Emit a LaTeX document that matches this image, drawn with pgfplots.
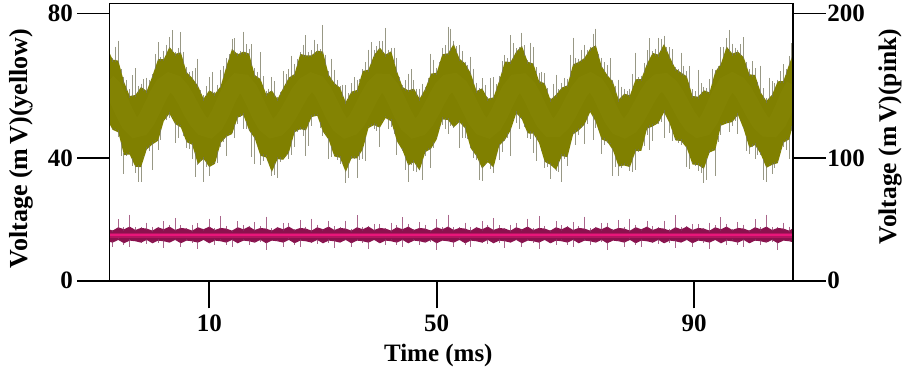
\documentclass[border=0pt]{standalone}
\usepackage{fontspec}
\setmainfont{Liberation Serif}
\usepackage{pgfplots}
\pgfplotsset{compat=1.18}
\usepackage{pgfplotstable}
\usepgfplotslibrary{fillbetween}
\definecolor{olv}{RGB}{128,128,0}
\definecolor{olvlight}{RGB}{160,160,30}
\definecolor{olvspike}{RGB}{118,118,92}
\definecolor{pinkdark}{RGB}{138,18,78}
\definecolor{pinkspike}{RGB}{140,50,100}
\definecolor{pinkline}{RGB}{232,22,122}

\pgfplotstableread{
t c lo hi slo shi
-8 59.4 48.4 69.9 44.4 72.9
-7 57.7 45.2 66.2 44.2 66.7
-6 54.4 44.4 65.9 41.9 71.9
-5 50.6 37.6 59.6 30.6 61.1
-4 47.3 37.8 55.3 37.3 57.3
-3 45.6 34.1 55.6 31.1 63.6
-2 46.0 34.0 58.0 28.5 59.0
-1 48.3 39.3 56.8 37.8 60.8
0 51.8 40.8 61.3 31.8 61.8
1 55.4 41.9 66.4 37.9 71.4
2 58.3 47.8 66.3 46.8 68.8
3 59.5 50.0 70.0 47.5 73.0
4 58.9 46.9 67.9 39.9 68.4
5 56.9 45.9 68.4 45.4 74.4
6 54.0 41.5 62.5 38.5 64.0
7 50.7 40.7 60.7 35.2 62.7
8 47.9 34.9 58.4 33.4 66.4
9 46.0 36.5 54.5 28.5 55.5
10 45.5 34.0 57.0 30.0 61.0
11 47.0 35.0 56.0 34.0 56.5
12 50.2 41.2 58.2 38.7 63.2
13 54.1 43.1 64.1 36.1 66.6
14 57.4 43.9 69.4 43.4 72.4
15 59.3 48.8 67.8 45.8 68.3
16 59.1 49.6 68.6 44.1 74.6
17 57.0 45.0 68.0 43.5 69.5
18 53.6 42.6 61.6 33.6 63.6
19 49.9 37.4 60.4 33.4 68.4
20 46.9 36.9 55.9 35.9 56.9
21 45.5 32.5 57.0 30.0 61.0
22 45.9 36.4 54.4 29.4 54.9
23 47.7 36.2 57.7 35.7 62.7
24 50.3 38.3 60.8 35.3 63.3
25 53.4 44.4 61.9 38.9 64.9
26 56.4 45.4 67.9 43.9 68.4
27 58.5 45.0 67.5 36.0 73.5
28 59.5 49.0 67.5 45.0 69.0
29 58.9 49.4 68.9 48.4 70.9
30 56.6 44.6 68.6 42.1 76.6
31 53.2 42.2 61.7 35.2 62.7
32 49.7 37.2 59.2 36.7 63.2
33 46.8 36.8 57.8 33.8 58.3
34 45.5 32.5 53.5 28.0 58.5
35 46.1 36.6 56.6 35.1 59.1
36 48.1 36.6 57.1 29.6 60.1
37 51.3 39.3 62.8 35.3 63.3
38 54.7 45.7 63.2 44.7 69.2
39 57.6 46.6 67.6 44.1 69.1
40 59.3 45.8 69.8 38.8 71.8
41 59.2 48.7 67.7 48.2 75.7
42 57.2 47.7 68.7 44.7 69.7
43 53.8 41.8 62.8 36.3 66.8
44 50.0 39.0 58.0 37.5 58.5
45 47.0 34.5 57.0 28.5 62.0
46 45.5 35.5 57.5 31.5 60.0
47 46.0 33.0 54.5 32.0 57.5
48 48.0 38.5 57.5 36.0 58.0
49 51.0 39.5 62.0 32.5 68.0
50 54.3 42.3 62.3 41.8 63.8
51 57.3 48.3 67.8 45.3 69.8
52 59.1 48.1 68.1 42.6 76.1
53 59.4 45.9 70.9 44.4 71.9
54 58.0 47.5 66.5 38.5 70.5
55 55.1 45.6 65.1 41.6 65.6
56 51.6 39.6 62.1 38.6 67.1
57 48.3 37.3 56.8 34.8 59.3
58 46.1 33.6 57.6 28.6 60.6
59 45.5 35.5 54.5 35.0 55.0
60 46.9 33.9 54.9 30.9 60.9
61 49.9 40.4 59.9 34.9 61.4
62 53.6 42.1 65.6 40.6 67.6
63 57.0 45.0 65.5 36.0 73.5
64 59.1 50.1 68.6 46.1 69.6
65 59.3 48.3 70.3 47.3 74.3
66 57.6 44.1 65.6 41.6 66.1
67 54.5 44.0 65.0 37.0 70.0
68 50.8 41.3 59.8 40.8 62.3
69 47.6 35.6 59.1 32.6 62.1
70 45.7 34.7 54.2 29.2 54.7
71 45.7 33.2 55.7 31.7 61.7
72 47.3 37.3 57.8 28.3 59.3
73 50.0 37.0 58.5 33.0 60.5
74 53.3 43.8 64.8 42.8 72.8
75 56.5 45.0 65.5 42.5 66.5
76 58.7 46.7 66.7 39.7 70.7
77 59.5 50.5 69.5 50.0 70.0
78 58.5 47.5 70.5 44.5 75.5
79 55.8 42.3 64.3 36.8 66.8
80 52.1 41.6 61.6 40.1 64.6
81 48.6 39.1 59.6 30.1 60.1
82 46.2 34.2 54.2 30.2 60.2
83 45.5 34.5 56.0 33.5 57.5
84 46.5 34.0 55.5 31.5 57.5
85 48.8 38.8 60.3 31.8 68.3
86 51.9 38.9 60.4 38.4 61.4
87 55.0 45.5 65.0 42.5 69.0
88 57.7 46.2 68.2 40.7 68.7
89 59.2 47.2 67.7 45.7 72.7
90 59.4 50.4 70.9 41.4 73.4
91 58.0 47.0 67.0 43.0 70.0
92 55.5 42.0 63.5 41.0 64.0
93 52.3 41.8 62.3 39.3 68.3
94 49.2 39.7 61.2 32.7 62.7
95 46.8 34.8 55.3 34.3 57.3
96 45.6 34.6 55.1 31.6 63.1
97 46.0 33.5 57.0 28.0 58.0
98 48.4 38.4 56.4 36.9 60.4
99 52.1 39.1 62.6 30.1 63.1
100 55.9 46.4 64.9 42.4 69.9
101 58.6 47.1 70.1 46.1 72.6
102 59.5 47.5 68.0 45.0 71.0
103 58.6 49.6 68.6 42.6 69.1
104 56.4 45.4 66.9 44.9 72.9
105 53.3 39.8 61.8 36.8 63.3
106 50.1 40.6 61.6 35.1 63.6
107 47.4 37.9 56.4 36.4 64.4
108 45.8 33.8 53.8 28.5 54.8
109 45.7 34.7 55.7 30.7 59.7
110 47.7 35.2 59.7 34.2 60.2
111 51.3 41.3 59.8 38.8 64.8
112 55.3 42.3 64.8 35.3 67.3
113 58.3 48.8 69.3 48.3 72.3
}\yel

\pgfplotstableread{
t slo shi lo hi
-7.5 44.8 69.1 46.8 68.1
-6.5 44.3 70.1 44.8 66.1
-5.5 36.0 63.3 41.0 62.8
-4.5 36.2 60.0 37.7 57.5
-3.5 33.0 61.5 36.0 55.5
-2.5 28.5 58.3 34.1 56.8
-1.5 35.7 60.4 36.7 57.4
-0.5 37.6 60.1 40.1 59.1
0.5 40.9 67.9 41.4 63.9
1.5 40.9 66.9 44.9 66.4
2.5 46.9 70.7 48.9 68.2
3.5 48.0 75.0 48.5 69.0
4.5 41.4 69.7 46.4 68.2
5.5 42.2 68.5 43.7 65.5
6.5 38.1 62.6 41.1 61.6
7.5 29.8 63.6 37.8 59.6
8.5 34.7 57.0 35.7 56.5
9.5 32.8 58.3 35.3 55.8
10.5 34.0 62.5 34.5 56.5
11.5 34.1 58.6 38.1 57.1
12.5 40.2 64.2 42.2 61.2
13.5 43.0 67.8 43.5 66.8
14.5 41.4 72.6 46.4 68.6
15.5 47.7 68.7 49.2 68.2
16.5 44.3 70.8 47.3 68.3
17.5 35.8 70.8 43.8 64.8
18.5 39.0 62.5 40.0 61.0
19.5 34.7 61.2 37.2 58.2
20.5 34.2 57.5 34.7 56.5
21.5 30.5 59.7 34.5 55.7
22.5 34.3 56.6 36.3 56.1
23.5 36.8 61.8 37.3 59.3
24.5 36.4 67.4 41.4 61.4
25.5 43.4 66.4 44.9 64.9
26.5 42.2 70.7 45.2 67.7
27.5 39.0 68.5 47.0 67.5
28.5 48.2 72.2 49.2 68.2
29.5 44.5 69.3 47.0 68.8
30.5 42.9 67.7 43.4 65.2
31.5 35.7 66.5 39.7 60.5
32.5 35.0 60.0 37.0 58.5
33.5 34.2 58.7 34.7 55.7
34.5 29.6 56.1 34.6 55.1
35.5 35.1 60.9 36.6 56.9
36.5 35.0 60.5 38.0 60.0
37.5 34.5 65.5 42.5 63.0
38.5 45.2 71.4 46.2 65.4
39.5 43.7 70.2 46.2 68.7
40.5 46.8 71.8 47.3 68.8
41.5 44.2 69.2 48.2 68.2
42.5 42.8 69.8 44.8 65.8
43.5 39.9 60.9 40.4 60.4
44.5 31.8 60.0 36.8 57.5
45.5 33.5 63.3 35.0 57.3
46.5 31.3 57.5 34.3 56.0
47.5 29.0 59.0 35.8 56.0
48.5 38.0 60.8 39.0 59.8
49.5 38.4 66.2 40.9 62.2
50.5 44.8 65.6 45.3 65.1
51.5 44.2 70.5 48.2 68.0
52.5 45.0 75.5 47.0 69.5
53.5 46.2 70.2 46.7 68.7
54.5 41.6 68.8 46.6 65.8
55.5 41.1 64.6 42.6 63.6
56.5 35.5 63.5 38.5 59.5
57.5 29.0 57.7 35.5 57.2
58.5 33.6 58.6 34.6 56.1
59.5 32.2 60.7 34.7 54.7
60.5 36.7 58.9 37.2 57.4
61.5 37.3 65.8 41.3 62.8
62.5 41.6 66.6 43.6 65.6
63.5 47.1 71.1 47.6 67.1
64.5 44.2 70.0 49.2 69.5
65.5 44.7 70.5 46.2 68.0
66.5 41.1 71.3 44.1 65.3
67.5 34.7 63.9 42.7 62.4
68.5 37.5 62.5 38.5 59.5
69.5 32.7 57.7 35.2 56.7
70.5 33.5 59.0 34.0 55.0
71.5 31.3 57.3 35.3 56.8
72.5 35.2 60.7 37.2 58.2
73.5 39.9 67.7 40.4 61.7
74.5 39.4 66.7 44.4 65.2
75.5 44.4 69.1 45.9 66.1
76.5 45.6 69.1 48.6 68.1
77.5 41.0 74.0 49.0 70.0
78.5 43.9 67.9 44.9 67.4
79.5 39.5 65.5 42.0 63.0
80.5 39.9 66.6 40.4 60.6
81.5 32.7 58.4 36.7 56.9
82.5 32.4 58.1 34.4 55.1
83.5 33.8 56.8 34.3 55.8
84.5 31.4 61.9 36.4 57.9
85.5 37.4 60.9 38.9 60.4
86.5 39.2 65.2 42.2 62.7
87.5 37.9 72.6 45.9 66.6
88.5 45.7 69.5 46.7 68.0
89.5 46.3 72.3 48.8 69.3
90.5 48.2 70.0 48.7 69.0
91.5 40.5 69.3 44.5 65.3
92.5 39.9 63.4 41.9 62.9
93.5 40.3 64.3 40.8 61.8
94.5 32.3 64.3 37.3 58.3
95.5 33.2 56.7 34.7 55.2
96.5 31.1 59.1 34.1 56.1
97.5 29.0 57.7 36.0 56.7
98.5 37.8 63.5 38.8 59.5
99.5 40.3 64.3 42.8 63.8
100.5 46.3 70.0 46.8 67.5
101.5 43.3 75.1 47.3 69.1
102.5 46.6 69.8 48.6 68.3
103.5 47.0 70.8 47.5 67.8
104.5 37.6 65.4 42.6 64.4
105.5 38.7 65.7 40.2 61.7
106.5 36.3 59.5 39.3 59.0
107.5 29.0 57.6 35.9 55.1
108.5 33.3 60.8 34.3 54.8
109.5 32.5 59.2 35.0 57.7
110.5 37.8 62.8 38.3 59.8
111.5 37.8 63.3 41.8 62.3
112.5 43.6 71.1 45.6 67.1
}\yelb

\pgfplotstableread{
t lo hi slo shi
-8 29.5 39.0 27.5 42.0
-7 28.5 37.5 23.5 38.0
-6 30.5 40.0 30.0 46.0
-5 28.0 38.5 24.5 40.0
-4 30.0 40.5 23.0 49.5
-3 29.5 38.0 28.5 40.0
-2 28.5 39.5 26.5 40.0
-1 30.5 39.0 25.5 43.5
0 28.0 37.5 27.5 40.5
1 30.0 40.0 26.5 40.5
2 29.5 38.5 22.5 44.5
3 28.5 40.5 27.5 42.0
4 30.5 38.0 28.5 47.0
5 28.0 39.5 23.0 41.5
6 30.0 39.0 29.5 39.5
7 29.5 37.5 26.0 42.0
8 28.5 40.0 21.5 43.0
9 30.5 38.5 29.5 39.0
10 28.0 40.5 26.0 46.5
11 30.0 38.0 25.0 39.5
12 29.5 39.5 29.0 48.5
13 28.5 39.0 25.0 41.0
14 30.5 37.5 23.5 38.0
15 28.0 40.0 27.0 44.5
16 30.0 38.5 28.0 41.5
17 29.5 40.5 24.5 41.0
18 28.5 38.0 28.0 44.0
19 30.5 39.5 27.0 41.0
20 28.0 39.0 21.0 48.0
21 30.0 37.5 29.0 39.5
22 29.5 40.0 27.5 40.5
23 28.5 38.5 23.5 43.0
24 30.5 40.5 30.0 43.5
25 28.0 38.0 24.5 38.5
26 30.0 39.5 23.0 45.5
27 29.5 39.0 28.5 40.5
28 28.5 37.5 26.5 46.5
29 30.5 40.0 25.5 42.0
30 28.0 38.5 27.5 39.0
31 30.0 40.5 26.5 45.0
32 29.5 38.0 22.5 41.0
33 28.5 39.5 27.5 40.0
34 30.5 39.0 28.5 45.0
35 28.0 37.5 23.0 39.0
36 30.0 40.0 29.5 49.0
37 29.5 38.5 26.0 40.5
38 28.5 40.5 21.5 41.0
39 30.5 38.0 29.5 42.5
40 28.0 39.5 26.0 42.5
41 30.0 39.0 25.0 39.5
42 29.5 37.5 29.0 43.5
43 28.5 40.0 25.0 41.5
44 30.5 38.5 23.5 47.5
45 28.0 40.5 27.0 42.5
46 30.0 38.0 28.0 38.5
47 29.5 39.5 24.5 44.0
48 28.5 39.0 28.0 42.0
49 30.5 37.5 27.0 38.0
50 28.0 40.0 21.0 46.0
51 30.0 38.5 29.0 40.0
52 29.5 40.5 27.5 49.5
53 28.5 38.0 23.5 40.0
54 30.5 39.5 30.0 40.0
55 28.0 39.0 24.5 43.5
56 30.0 37.5 23.0 40.5
57 29.5 40.0 28.5 40.5
58 28.5 38.5 26.5 44.5
59 30.5 40.5 25.5 42.0
60 28.0 38.0 27.5 47.0
61 30.0 39.5 26.5 41.5
62 29.5 39.0 22.5 39.5
63 28.5 37.5 27.5 42.0
64 30.5 40.0 28.5 43.0
65 28.0 38.5 23.0 39.0
66 30.0 40.5 29.5 46.5
67 29.5 38.0 26.0 39.5
68 28.5 39.5 21.5 48.5
69 30.5 39.0 29.5 41.0
70 28.0 37.5 26.0 38.0
71 30.0 40.0 25.0 44.5
72 29.5 38.5 29.0 41.5
73 28.5 40.5 25.0 41.0
74 30.5 38.0 23.5 44.0
75 28.0 39.5 27.0 41.0
76 30.0 39.0 28.0 48.0
77 29.5 37.5 24.5 39.5
78 28.5 40.0 28.0 40.5
79 30.5 38.5 27.0 43.0
80 28.0 40.5 21.0 43.5
81 30.0 38.0 29.0 38.5
82 29.5 39.5 27.5 45.5
83 28.5 39.0 23.5 40.5
84 30.5 37.5 30.0 46.5
85 28.0 40.0 24.5 42.0
86 30.0 38.5 23.0 39.0
87 29.5 40.5 28.5 45.0
88 28.5 38.0 26.5 41.0
89 30.5 39.5 25.5 40.0
90 28.0 39.0 27.5 45.0
91 30.0 37.5 26.5 39.0
92 29.5 40.0 22.5 49.0
93 28.5 38.5 27.5 40.5
94 30.5 40.5 28.5 41.0
95 28.0 38.0 23.0 42.5
96 30.0 39.5 29.5 42.5
97 29.5 39.0 26.0 39.5
98 28.5 37.5 21.5 43.5
99 30.5 40.0 29.5 41.5
100 28.0 38.5 26.0 47.5
101 30.0 40.5 25.0 42.5
102 29.5 38.0 29.0 38.5
103 28.5 39.5 25.0 44.0
104 30.5 39.0 23.5 42.0
105 28.0 37.5 27.0 38.0
106 30.0 40.0 28.0 46.0
107 29.5 38.5 24.5 40.0
108 28.5 40.5 28.0 49.5
109 30.5 38.0 27.0 40.0
110 28.0 39.5 21.0 40.0
111 30.0 39.0 29.0 43.5
112 29.5 37.5 27.5 40.5
113 28.5 40.0 23.5 40.5
}\pnk

\pgfplotsset{
  base/.style={
    at={(0pt,0pt)}, anchor=south west,
    scale only axis, width=683.8pt, height=277.2pt,
    xmin=-7.55, xmax=112.73,
    axis line style={line width=1.8pt, black},
    tick style={line width=1.8pt, black},
    tick align=outside,
    major tick length=32.5pt,
    /pgf/number format/assume math mode=true,
    ticklabel style={font=\fontsize{25}{30}\selectfont\bfseries},
  },
  upspk/.style={forget plot, draw=none,
    error bars/.cd, y dir=minus, y explicit, error mark=none,
    error bar style={line width=1pt, draw=#1, opacity=0.75}},
}

\begin{document}
\begin{tikzpicture}

% left axis (yellow)
\begin{axis}[base,
  ymin=0, ymax=83.0,
  xtick=\empty,
  ytick={0,36.65,80}, yticklabels={0,40,80},
  ytick pos=left,
  yticklabel style={inner sep=0pt, xshift=-4pt},
]
\addplot[name path=yh, draw=none, forget plot] table[x=t, y=hi] {\yel};
\addplot[name path=yl, draw=none, forget plot] table[x=t, y=lo] {\yel};
\addplot[fill=olv, draw=none, forget plot] fill between[of=yh and yl];
\addplot[line width=18pt, olvlight, opacity=0.1, forget plot] table[x=t, y=c] {\yel};
% spikes outside the band: upper and lower parts
\addplot[upspk=olvspike] table[x=t, y=shi, y error minus expr=\thisrow{shi}-\thisrow{hi}+0.6] {\yel};
\addplot[upspk=olvspike] table[x=t, y=lo, y error minus expr=\thisrow{lo}-\thisrow{slo}-0.6, y expr=\thisrow{lo}+0.6] {\yel};
\addplot[upspk=olvspike] table[x=t, y=shi, y error minus expr=\thisrow{shi}-\thisrow{hi}+0.6] {\yelb};
\addplot[upspk=olvspike] table[x=t, y=lo, y error minus expr=\thisrow{lo}-\thisrow{slo}-0.6, y expr=\thisrow{lo}+0.6] {\yelb};
\end{axis}

% right axis (pink)
\begin{axis}[base,
  ymin=0, ymax=207.5,
  xtick=\empty,
  ytick={0,91.6,200}, yticklabels={0,100,200},
  ytick pos=right,
  yticklabel style={inner sep=0pt, xshift=1.5pt},
]
\addplot[name path=ph, draw=none, forget plot] table[x=t, y=hi] {\pnk};
\addplot[name path=pl, draw=none, forget plot] table[x=t, y=lo] {\pnk};
\addplot[fill=pinkdark, draw=none, forget plot] fill between[of=ph and pl];
\addplot[upspk=pinkspike] table[x=t, y=shi, y error minus expr=\thisrow{shi}-\thisrow{hi}+1] {\pnk};
\addplot[upspk=pinkspike] table[x=t, y=lo, y error minus expr=\thisrow{lo}-\thisrow{slo}-1, y expr=\thisrow{lo}+1] {\pnk};
\addplot[line width=5pt, pinkline, opacity=0.45, forget plot] coordinates {(-8,34.2) (113,34.2)};
\addplot[line width=2pt, pinkline, forget plot] coordinates {(-8,34.2) (113,34.2)};
\end{axis}

% x ticks
\begin{axis}[base,
  ymin=0, ymax=83.0,
  ytick=\empty,
  major tick length=27.7pt,
  xtick={10,50,95.3}, xticklabels={10,50,90},
  xtick pos=left,
  xticklabel style={inner sep=0pt, yshift=-6.6pt},
]
\addplot[draw=none, forget plot] coordinates {(0,0) (1,1)};
\end{axis}

\node[rotate=90, font=\fontsize{26}{30}\selectfont\bfseries] at (-88.5pt,132.4pt) {Voltage (m\,V)(yellow)};
\node[rotate=90, font=\fontsize{25.5}{30}\selectfont\bfseries] at (780.5pt,144.2pt) {Voltage (m\,V)(pink)};
\node[anchor=base, font=\fontsize{25}{30}\selectfont\bfseries] at (328.8pt,-81pt) {Time (ms)};

\pgfresetboundingbox
\path[use as bounding box] (-109.5pt,-93.3pt) rectangle (796.5pt,280.7pt);
\end{tikzpicture}
\end{document}
